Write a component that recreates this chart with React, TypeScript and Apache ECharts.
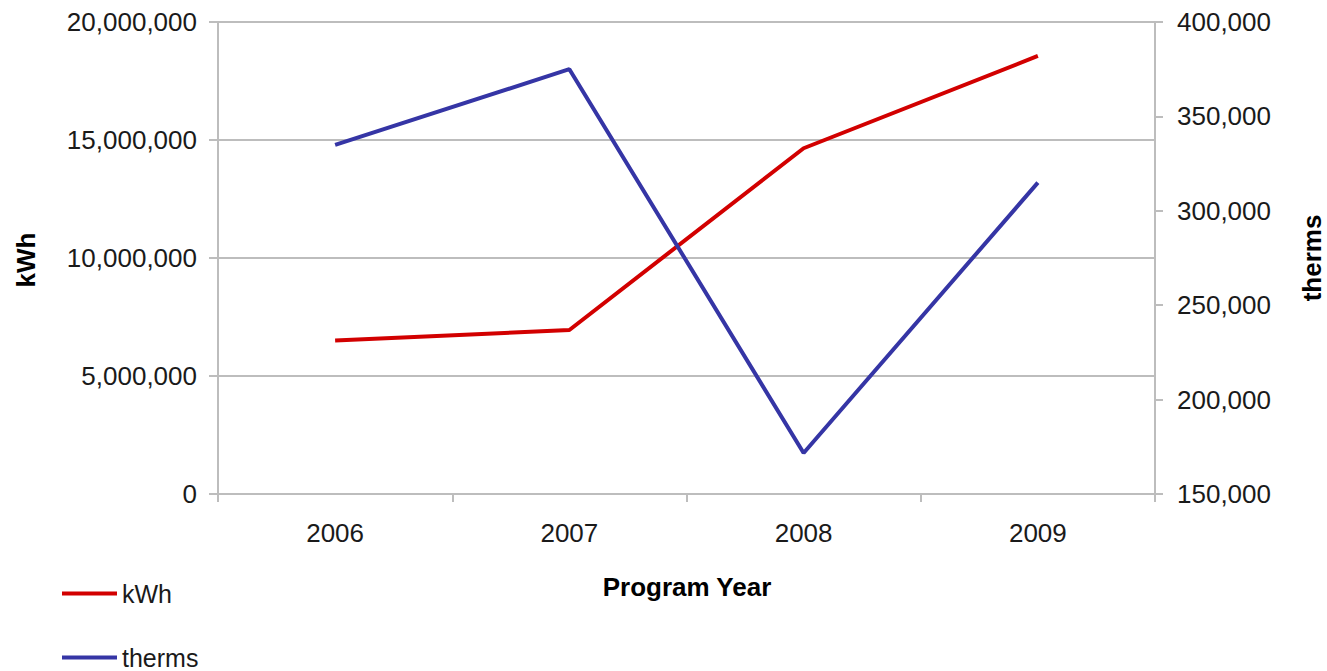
import React, { useEffect, useRef } from "react";
import * as echarts from "echarts";

const years = ["2006", "2007", "2008", "2009"];
const kwhValues = [6500000, 6950000, 14650000, 18560000];
const thermValues = [334900, 375000, 171700, 314900];
const kwhTicks = { min: 0, max: 20000000, interval: 5000000 };
const thermTicks = { min: 150000, max: 400000, interval: 50000 };

const FONT = "'Liberation Sans', Arial, sans-serif";
const RED = "#D20000";
const BLUE = "#3535A5";
const GRAY = "#BDBDBD";

export default function App() {
  const ref = useRef<HTMLDivElement>(null);
  useEffect(() => {
    if (!ref.current) return;
    const chart = echarts.init(ref.current, undefined, { renderer: "svg" });
    const fmt = (v: number) => v.toLocaleString("en-US");
    const legendBase = {
      orient: "vertical",
      left: 62,
      padding: 0,
      icon: "rect",
      itemWidth: 55,
      itemHeight: 4,
      textStyle: { fontFamily: FONT, fontSize: 25, lineHeight: 24, color: "#1a1a1a" },
    };
    chart.setOption({
      animation: false,
      backgroundColor: "#fff",
      grid: { left: 218, right: 172, top: 22, bottom: 177, containLabel: false },
      legend: [
        { ...legendBase, top: 581, data: ["kWh"] },
        { ...legendBase, top: 645, data: ["therms"] },
      ],
      xAxis: {
        type: "category",
        data: years,
        boundaryGap: true,
        axisLine: { lineStyle: { color: GRAY, width: 2 } },
        axisTick: { show: true, length: 8, lineStyle: { color: GRAY, width: 2 } },
        axisLabel: { fontFamily: FONT, fontSize: 26, color: "#1a1a1a", margin: 26 },
        splitLine: { show: false },
      },
      yAxis: [
        {
          type: "value",
          min: kwhTicks.min,
          max: kwhTicks.max,
          interval: kwhTicks.interval,
          axisLine: { show: true, lineStyle: { color: GRAY, width: 2 } },
          axisTick: { show: true, length: 9, lineStyle: { color: GRAY, width: 2 } },
          axisLabel: { fontFamily: FONT, fontSize: 26, color: "#1a1a1a", margin: 21, formatter: fmt },
          splitLine: { show: true, lineStyle: { color: GRAY, width: 2 } },
        },
        {
          type: "value",
          position: "right",
          min: thermTicks.min,
          max: thermTicks.max,
          interval: thermTicks.interval,
          axisLine: { show: true, lineStyle: { color: GRAY, width: 2 } },
          axisTick: { show: true, length: 8, lineStyle: { color: GRAY, width: 2 } },
          axisLabel: { fontFamily: FONT, fontSize: 26, color: "#1a1a1a", margin: 22, formatter: fmt },
          splitLine: { show: false },
        },
      ],
      series: [
        {
          name: "kWh",
          type: "line",
          data: kwhValues,
          yAxisIndex: 0,
          symbol: "none",
          color: RED,
          lineStyle: { color: RED, width: 4 },
        },
        {
          name: "therms",
          type: "line",
          data: thermValues,
          yAxisIndex: 1,
          symbol: "none",
          color: BLUE,
          lineStyle: { color: BLUE, width: 4 },
        },
      ],
      graphic: [
        {
          type: "text",
          x: 26,
          y: 260,
          rotation: Math.PI / 2,
          style: { text: "kWh", font: `bold 26px ${FONT}`, fill: "#000", align: "center", verticalAlign: "middle" },
        },
        {
          type: "text",
          x: 1312,
          y: 258,
          rotation: Math.PI / 2,
          style: { text: "therms", font: `bold 26px ${FONT}`, fill: "#000", align: "center", verticalAlign: "middle" },
        },
        {
          type: "text",
          x: 687,
          y: 587,
          style: { text: "Program Year", font: `bold 26px ${FONT}`, fill: "#000", align: "center", verticalAlign: "middle" },
        },
      ],
    });
    return () => chart.dispose();
  }, []);
  return <div ref={ref} style={{ position: "absolute", left: 0, top: 0, width: 1327, height: 671 }} />;
}
